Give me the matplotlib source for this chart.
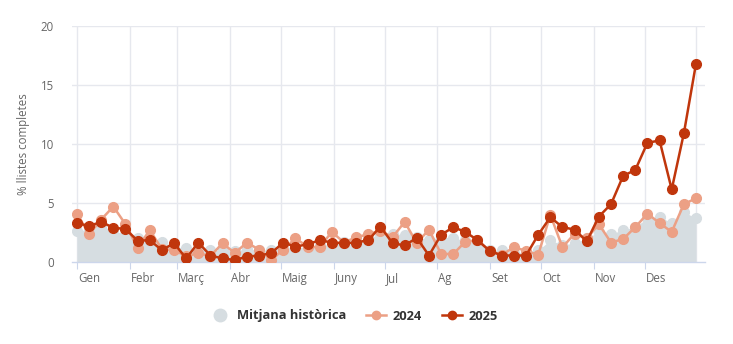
import matplotlib.pyplot as plt
import matplotlib.transforms as mtransforms
import numpy as np

months = ["Gen", "Febr", "Març", "Abr", "Maig", "Juny", "Jul", "Ag", "Set", "Oct", "Nov", "Des"]
month_start_days = [0, 31, 59, 90, 120, 151, 181, 212, 243, 273, 304, 334]

historic = [2.6, 2.8, 3.0, 2.7, 2.3, 2.0, 1.9, 1.7, 1.3, 1.15, 1.1, 1.0, 1.0, 0.95,
            1.1, 1.0, 1.05, 1.2, 1.2, 1.3, 1.4, 1.5, 1.7, 1.8, 2.0, 2.4, 2.4, 2.3,
            2.15, 1.85, 2.15, 2.0, 1.85, 1.6, 1.0, 1.0, 0.75, 0.87, 1.0, 1.85, 1.45,
            1.6, 2.0, 2.55, 2.4, 2.7, 3.0, 3.7, 3.85, 3.3, 4.25, 3.7]
y2024 = [4.1, 2.35, 3.6, 4.7, 3.2, 1.2, 2.7, 1.1, 1.0, 0.5, 0.75, 0.5, 1.6, 0.75,
         1.65, 1.05, 0.17, 1.05, 2.0, 1.3, 1.25, 2.55, 1.65, 2.1, 2.35, 2.65, 2.1,
         3.4, 1.6, 2.75, 0.68, 0.68, 1.72, 1.85, 0.95, 0.6, 1.25, 0.95, 0.6, 4.0,
         1.25, 2.4, 2.0, 3.2, 1.65, 1.95, 2.95, 4.1, 3.3, 2.55, 4.9, 5.4]
y2025 = [3.3, 3.05, 3.4, 2.9, 2.8, 1.8, 1.85, 1.0, 1.6, 0.3, 1.65, 0.55, 0.3, 0.17,
         0.45, 0.55, 0.75, 1.65, 1.3, 1.5, 1.85, 1.65, 1.6, 1.65, 1.85, 3.0, 1.6,
         1.4, 2.05, 0.55, 2.3, 2.95, 2.55, 1.85, 0.95, 0.55, 0.55, 0.55, 2.3, 3.8,
         2.95, 2.75, 1.75, 3.85, 4.9, 7.3, 7.8, 10.1, 10.3, 6.15, 10.9, 16.8]

# weekly points spread over the year (day of year)
days = np.linspace(0, 364, len(y2025))

c_hist = "#d6dde1"
c_2024 = "#eca085"
c_2025 = "#c0360c"
grid_c = "#e6e8ee"
text_c = "#666666"

plt.rcParams["font.family"] = ["Open Sans", "DejaVu Sans"]

fig = plt.figure(figsize=(7.33, 3.44), dpi=100)
ax = fig.add_axes([72 / 733, 1 - 262 / 344, (705 - 72) / 733, (262 - 26) / 344])

ax.fill_between(days, 0, historic, color=c_hist, lw=0, zorder=1)
ax.plot(days, historic, "o", color=c_hist, ms=7, zorder=2)
ax.plot(days, y2024, "-o", color=c_2024, lw=1.8, ms=7, zorder=3)
ax.plot(days, y2025, "-o", color=c_2025, lw=1.8, ms=7, zorder=4)

ax.set_xlim(-2.9, 369.3)
ax.set_ylim(0, 20)
ax.set_yticks([0, 5, 10, 15, 20])
ax.set_xticks(month_start_days)
ax.set_xticklabels(months, ha="left")
ax.tick_params(axis="x", length=5, color="#ccd6eb", pad=2, labelsize=8.3, labelcolor=text_c)
ax.tick_params(axis="y", length=0, pad=13, labelsize=8.3, labelcolor=text_c)
shift = mtransforms.ScaledTranslation(1 / 100, 0, fig.dpi_scale_trans)
for lab in ax.get_xticklabels():
    lab.set_transform(lab.get_transform() + shift)

for d in month_start_days + [364]:
    ax.axvline(d, color=grid_c, lw=1, zorder=0)
for v in [5, 10, 15, 20]:
    ax.axhline(v, color=grid_c, lw=1, zorder=0)

for s in ["top", "right", "left"]:
    ax.spines[s].set_visible(False)
ax.spines["bottom"].set_color("#ccd6eb")
ax.spines["bottom"].set_linewidth(1)

ax.set_ylabel("% llistes completes", color=text_c, fontsize=8.3, labelpad=8)

h1 = plt.Line2D([], [], ls="none", marker="o", color=c_hist, ms=9)
h2 = plt.Line2D([], [], ls="-", marker="o", color=c_2024, lw=1.8, ms=6)
h3 = plt.Line2D([], [], ls="-", marker="o", color=c_2025, lw=1.8, ms=6)
leg = fig.legend([h1, h2, h3], ["Mitjana històrica", "2024", "2025"], ncol=3,
                 loc="center", bbox_to_anchor=(0.483, 1 - 316 / 344), frameon=False,
                 prop={"weight": "bold", "size": 9.3}, handlelength=1.5,
                 columnspacing=1.6, handletextpad=0.5)
for t in leg.get_texts():
    t.set_color("#333333")

fig.savefig("out.png", dpi=100)
